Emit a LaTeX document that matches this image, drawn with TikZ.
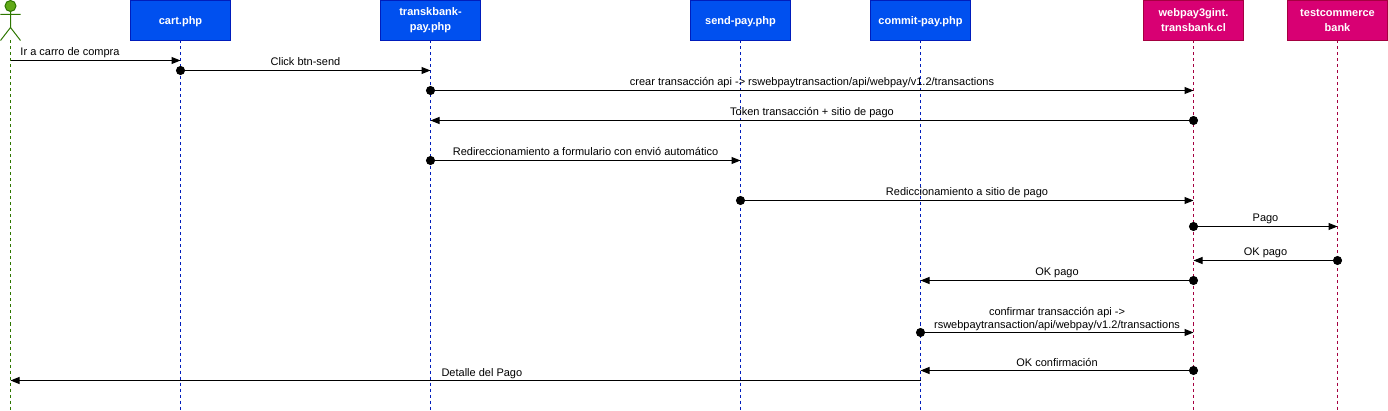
\documentclass[tikz,border=0pt]{standalone}
\usepackage{fontspec}
\setmainfont{Liberation Sans}
\usetikzlibrary{arrows.meta}
\definecolor{bluefill}{HTML}{0050EF}
\definecolor{blueline}{HTML}{001DBC}
\definecolor{pinkfill}{HTML}{D80073}
\definecolor{pinkline}{HTML}{A50040}
\definecolor{greenfill}{HTML}{60A917}
\definecolor{greenline}{HTML}{2D7600}
\tikzset{
  blue box/.style={draw=blueline,fill=bluefill,text=white,minimum width=100pt,minimum height=40pt,
    inner sep=0pt,align=center,font=\fontsize{11}{15}\selectfont\bfseries,
    execute at begin node={\rule{0pt}{10.5pt}}},
  pink box/.style={blue box,draw=pinkline,fill=pinkfill},
  life/.style={dashed,dash pattern=on 3pt off 3pt,line width=1pt},
  msg/.style={line width=1pt,-{Triangle[length=9pt,width=7pt]},
    every node/.style={font=\fontsize{11}{13}\selectfont,above,inner sep=1.5pt,text depth=2.5pt,align=center,text=black}},
  dotmsg/.style={msg,{Circle[length=9pt]}-{Triangle[length=9pt,width=7pt]},shorten <=-4.5pt}
}
\begin{document}
\begin{tikzpicture}[x=1pt,y=-1pt]
    \useasboundingbox (-0.5,-0.5) rectangle (1387.5,410.5);

    % actor
    \node[circle,draw=greenline,fill=greenfill,line width=1pt,minimum size=11pt,inner sep=0pt] (head) at (10,5.5) {};
    \coordinate (neck) at (10,27);
    \coordinate (actor) at (10,40);
    \coordinate (armL) at (0,14);
    \coordinate (armR) at (20,14);
    \coordinate (footL) at (0,40);
    \coordinate (footR) at (20,40);
    \draw[greenline,line width=1pt] (head) -- (neck) (armL) -- (armR) (footL) -- (neck) -- (footR);

    % lifeline heads
    \node[blue box] (cart) at (180,20) {cart.php};
    \node[blue box] (trans) at (430,20) {transkbank-\\pay.php};
    \node[blue box] (send) at (740,20) {send-pay.php};
    \node[blue box] (commit) at (920,20) {commit-pay.php};
    \node[pink box] (webpay) at (1193,20) {webpay3gint.\\transbank.cl};
    \node[pink box] (bank) at (1337,20) {testcommerce\\bank};

    % lifelines
    \draw[life,greenline] (actor) -- (actor |- 0,410);
    \draw[life,blueline] (cart) ++(0,20) -- (cart |- 0,410);
    \draw[life,blueline] (trans) ++(0,20) -- (trans |- 0,410);
    \draw[life,blueline] (send) ++(0,20) -- (send |- 0,410);
    \draw[life,blueline] (commit) ++(0,20) -- (commit |- 0,410);
    \draw[life,pinkline] (webpay) ++(0,20) -- (webpay |- 0,410);
    \draw[life,pinkline] (bank) ++(0,20) -- (bank |- 0,410);

    % messages
    \draw[msg] (actor |- 0,60) -- node[pos=0.35] {Ir a carro de compra} (cart |- 0,60);
    \draw[dotmsg] (cart |- 0,70) -- node {Click btn-send} (trans |- 0,70);
    \draw[dotmsg] (trans |- 0,90) -- node {crear transacción api -> rswebpaytransaction/api/webpay/v1.2/transactions} (webpay |- 0,90);
    \draw[dotmsg] (webpay |- 0,120) -- node {Token transacción + sitio de pago} (trans |- 0,120);
    \draw[dotmsg] (trans |- 0,160) -- node {Redireccionamiento a formulario con envió automático} (send |- 0,160);
    \draw[dotmsg] (send |- 0,200) -- node {Rediccionamiento a sitio de pago} (webpay |- 0,200);
    \draw[dotmsg] (webpay |- 0,226) -- node {Pago} (bank |- 0,226);
    \draw[dotmsg] (bank |- 0,260) -- node {OK pago} (webpay |- 0,260);
    \draw[dotmsg] (webpay |- 0,280) -- node {OK pago} (commit |- 0,280);
    \draw[dotmsg] (commit |- 0,332) -- node {confirmar transacción api -> \\rswebpaytransaction/api/webpay/v1.2/transactions} (webpay |- 0,332);
    \draw[dotmsg] (webpay |- 0,370) -- node {OK confirmación} (commit |- 0,370);
    \draw[msg] (commit |- 0,380) -- node[pos=0.482] {Detalle del Pago} (actor |- 0,380);
\end{tikzpicture}
\end{document}
